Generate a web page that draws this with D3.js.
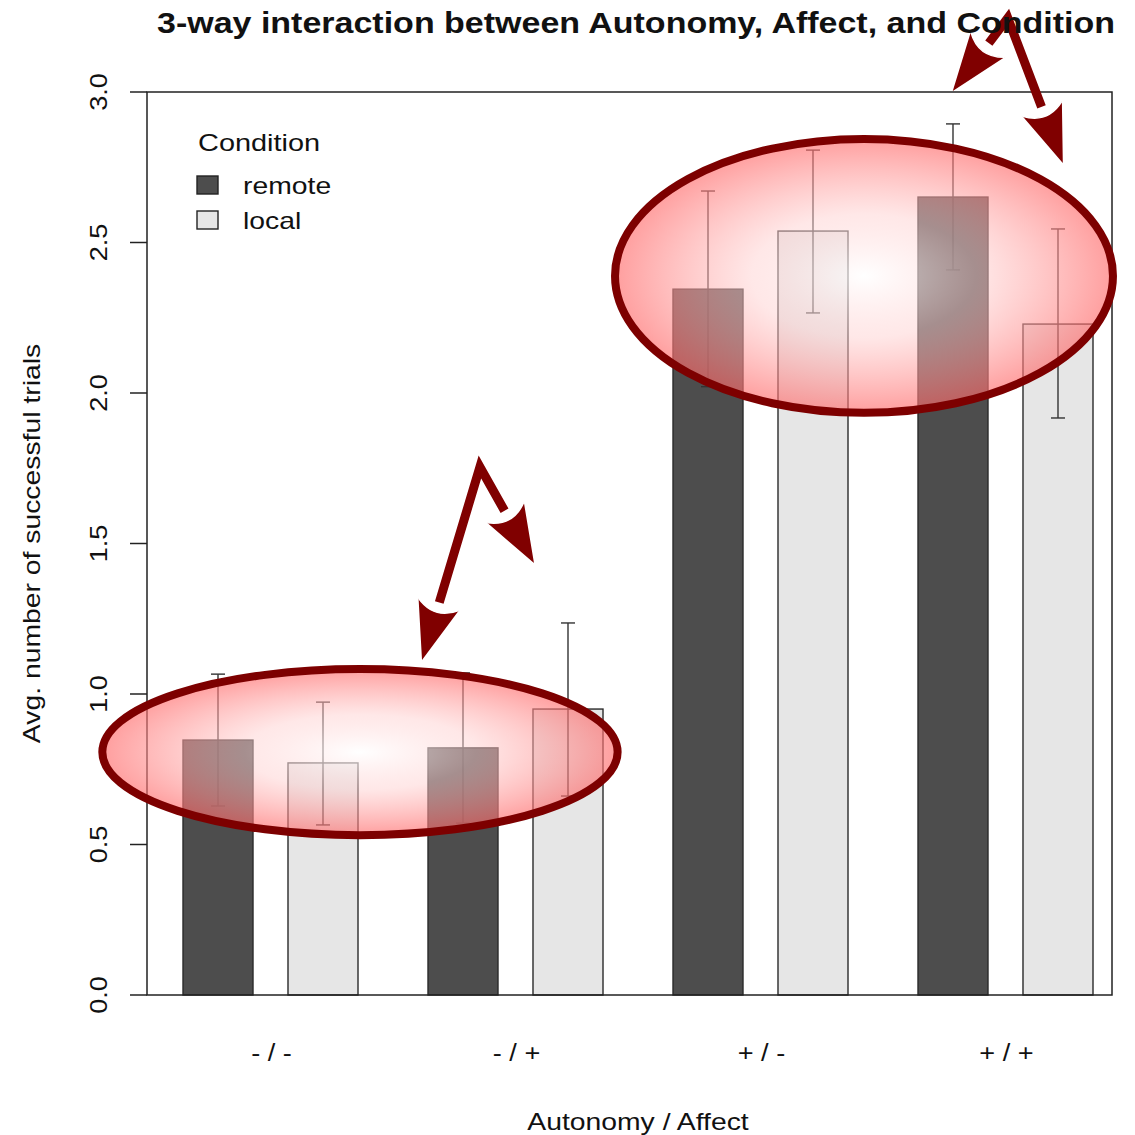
<!DOCTYPE html>
<html>
<head>
<meta charset="utf-8">
<script src="https://cdn.jsdelivr.net/npm/d3@7"></script>
<style>
  body { margin: 0; background: #fff; }
  text { font-family: "Liberation Sans", Arial, sans-serif; fill: #111; }
</style>
</head>
<body>
<div class="canvas"></div>
<script>
// data
const groups = ['- / -', '- / +', '+ / -', '+ / +'];
const conditions = ['remote', 'local'];
const remoteMeans = [0.847, 0.821, 2.345, 2.651];
const localMeans = [0.771, 0.950, 2.538, 2.229];
const remoteLower = [0.628, 0.571, 2.021, 2.409];
const remoteUpper = [1.066, 1.070, 2.671, 2.894];
const localLower = [0.565, 0.661, 2.266, 1.917];
const localUpper = [0.973, 1.236, 2.807, 2.545];
const yTicks = [0, 0.5, 1, 1.5, 2, 2.5, 3];

const colour = { remote: '#4d4d4d', local: '#e6e6e6' };

const rows = [];
groups.forEach((g, i) => {
    rows.push({ group: g, cond: 'remote', mean: remoteMeans[i], lo: remoteLower[i], hi: remoteUpper[i] });
    rows.push({ group: g, cond: 'local', mean: localMeans[i], lo: localLower[i], hi: localUpper[i] });
});

const W = 1135, H = 1135;
const margin = { top: 92, right: 23, bottom: 140, left: 147 };
const innerW = W - margin.left - margin.right;
const innerH = H - margin.top - margin.bottom;

// the original picture is stretched a little along its text
const STRETCH = 1.18;
const stretch = sel => sel.each(function () {
    const len = this.getComputedTextLength();
    d3.select(this)
        .attr('textLength', len * STRETCH)
        .attr('lengthAdjust', 'spacingAndGlyphs');
});

const svg = d3.select('.canvas')
    .append('svg')
    .attr('width', W)
    .attr('height', H);

const defs = svg.append('defs');

const graph = svg.append('g')
    .attr('transform', `translate(${margin.left}, ${margin.top})`);

const y = d3.scaleLinear().domain([0, 3]).range([innerH, 0]);

const x0 = d3.scaleBand()
    .domain(groups)
    .range([36, innerW - 19])
    .paddingInner(0.2857)
    .paddingOuter(0);

const x1 = d3.scaleBand()
    .domain(conditions)
    .range([0, x0.bandwidth()])
    .paddingInner(0.3333)
    .paddingOuter(0);

// annotation scale: fraction of plot width
const xa = d3.scaleLinear().domain([0, 1]).range([0, innerW]);

// bars
const barG = graph.selectAll('g.grp')
    .data(groups)
    .enter()
    .append('g')
    .attr('class', 'grp')
    .attr('transform', d => `translate(${x0(d)}, 0)`);

barG.selectAll('rect')
    .data(g => rows.filter(r => r.group === g))
    .enter()
    .append('rect')
    .attr('x', d => x1(d.cond))
    .attr('y', d => y(d.mean))
    .attr('width', x1.bandwidth())
    .attr('height', d => y(0) - y(d.mean))
    .attr('fill', d => colour[d.cond])
    .attr('stroke', '#2a2a2a')
    .attr('stroke-width', 1.4);

// error bars
const err = barG.selectAll('g.err')
    .data(g => rows.filter(r => r.group === g))
    .enter()
    .append('g')
    .attr('class', 'err')
    .attr('transform', d => `translate(${x1(d.cond) + x1.bandwidth() / 2}, 0)`)
    .attr('stroke', '#333')
    .attr('stroke-width', 1.4);

err.append('line')
    .attr('y1', d => y(d.lo))
    .attr('y2', d => y(d.hi));
err.append('line')
    .attr('x1', -7).attr('x2', 7)
    .attr('y1', d => y(d.hi)).attr('y2', d => y(d.hi));
err.append('line')
    .attr('x1', -7).attr('x2', 7)
    .attr('y1', d => y(d.lo)).attr('y2', d => y(d.lo));

// box
graph.append('rect')
    .attr('width', innerW)
    .attr('height', innerH)
    .attr('fill', 'none')
    .attr('stroke', '#222')
    .attr('stroke-width', 1.5);

// y axis
const yAxis = graph.append('g');
yAxis.selectAll('line')
    .data(yTicks)
    .enter()
    .append('line')
    .attr('x1', -17).attr('x2', 0)
    .attr('y1', d => y(d)).attr('y2', d => y(d))
    .attr('stroke', '#222')
    .attr('stroke-width', 1.5);
yAxis.selectAll('text')
    .data(yTicks)
    .enter()
    .append('text')
    .attr('transform', d => `translate(-40, ${y(d)}) rotate(-90)`)
    .attr('text-anchor', 'middle')
    .attr('font-size', 23)
    .text(d => d.toFixed(1))
    .call(stretch);

// x labels
graph.selectAll('text.xl')
    .data(groups)
    .enter()
    .append('text')
    .attr('class', 'xl')
    .attr('x', d => x0(d) + x0.bandwidth() / 2 + 1)
    .attr('y', innerH + 66)
    .attr('text-anchor', 'middle')
    .attr('font-size', 23)
    .text(d => d)
    .call(stretch);

// axis titles
svg.append('text')
    .attr('x', 638)
    .attr('y', 1130)
    .attr('text-anchor', 'middle')
    .attr('font-size', 24)
    .text('Autonomy / Affect')
    .call(stretch);

svg.append('text')
    .attr('transform', `translate(40, ${margin.top + innerH / 2}) rotate(-90)`)
    .attr('text-anchor', 'middle')
    .attr('font-size', 24)
    .text('Avg. number of successful trials')
    .call(stretch);

svg.append('text')
    .attr('x', 636)
    .attr('y', 33)
    .attr('text-anchor', 'middle')
    .attr('font-size', 30)
    .attr('font-weight', 'bold')
    .text('3-way interaction between Autonomy, Affect, and Condition')
    .attr('textLength', 958)
    .attr('lengthAdjust', 'spacingAndGlyphs');

// legend
const legend = graph.append('g')
    .attr('transform', 'translate(50, 0)');
legend.append('text')
    .attr('x', 1).attr('y', 59)
    .attr('font-size', 24.5)
    .text('Condition')
    .call(stretch);
const li = legend.selectAll('g.li')
    .data(conditions)
    .enter()
    .append('g')
    .attr('class', 'li')
    .attr('transform', (d, i) => `translate(0, ${84 + i * 35})`);
li.append('rect')
    .attr('width', 21).attr('height', 18)
    .attr('fill', d => colour[d])
    .attr('stroke', '#222')
    .attr('stroke-width', 1.4);
li.append('text')
    .attr('x', 46).attr('y', 18)
    .attr('font-size', 24)
    .text(d => d)
    .call(stretch);

// annotations: highlighted ellipses
const ellipses = [
    { id: 'gl', cx: 0.2207, cy: 0.807, rx: 0.267, ry: 0.276 },
    { id: 'gr', cx: 0.743, cy: 2.389, rx: 0.258, ry: 0.455 }
];

ellipses.forEach(e => {
    const grad = defs.append('radialGradient').attr('id', e.id);
    grad.append('stop').attr('offset', '0%').attr('stop-color', '#ffffff').attr('stop-opacity', 0.7);
    grad.append('stop').attr('offset', '45%').attr('stop-color', '#ffd0d0').attr('stop-opacity', 0.5);
    grad.append('stop').attr('offset', '100%').attr('stop-color', '#ff6a6a').attr('stop-opacity', 0.65);
});

graph.selectAll('ellipse')
    .data(ellipses)
    .enter()
    .append('ellipse')
    .attr('cx', d => xa(d.cx))
    .attr('cy', d => y(d.cy))
    .attr('rx', d => xa(d.rx))
    .attr('ry', d => y(0) - y(d.ry))
    .attr('fill', d => `url(#${d.id})`)
    .attr('stroke', '#7d0000')
    .attr('stroke-width', 8);

// annotations: forked arrows (vertex, then two tips), x as plot fraction, y in data units
const arrows = [
    { v: [0.345, 1.754], tips: [[0.285, 1.113], [0.401, 1.435]] },
    { v: [0.892, 3.246], tips: [[0.835, 3.003], [0.949, 2.764]] }
];

const headLen = 54, headW = 42;
const arrowG = graph.append('g');
arrows.forEach(a => {
    const V = [xa(a.v[0]), y(a.v[1])];
    const bases = [];
    const heads = [];
    a.tips.forEach(t => {
        const T = [xa(t[0]), y(t[1])];
        const dx = T[0] - V[0], dy = T[1] - V[1];
        const len = Math.hypot(dx, dy);
        const u = [dx / len, dy / len];
        const n = [-u[1], u[0]];
        const B = [T[0] - u[0] * headLen, T[1] - u[1] * headLen];
        bases.push([B[0] - u[0] * 6, B[1] - u[1] * 6]);
        const c1 = [B[0] + n[0] * headW / 2 - u[0] * 4, B[1] + n[1] * headW / 2 - u[1] * 4];
        const c2 = [B[0] - n[0] * headW / 2 - u[0] * 4, B[1] - n[1] * headW / 2 - u[1] * 4];
        const q = [B[0] + u[0] * 12, B[1] + u[1] * 12];
        heads.push({ d: `M${T[0]},${T[1]} L${c1[0]},${c1[1]} Q${q[0]},${q[1]} ${c2[0]},${c2[1]} Z`, c1, c2, q });
    });
    arrowG.append('path')
        .attr('d', `M${bases[0][0]},${bases[0][1]} L${V[0]},${V[1]} L${bases[1][0]},${bases[1][1]}`)
        .attr('fill', 'none')
        .attr('stroke', '#800000')
        .attr('stroke-width', 9)
        .attr('stroke-linejoin', 'miter');
    heads.forEach(h => {
        arrowG.append('path')
            .attr('d', h.d)
            .attr('fill', '#800000');
        arrowG.append('path')
            .attr('d', `M${h.c1[0]},${h.c1[1]} Q${h.q[0]},${h.q[1]} ${h.c2[0]},${h.c2[1]}`)
            .attr('fill', 'none')
            .attr('stroke', '#fff')
            .attr('stroke-width', 1.5);
    });
});
</script>
</body>
</html>
